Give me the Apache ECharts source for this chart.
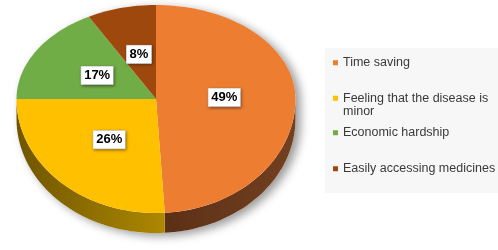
<!DOCTYPE html>
<html><head><meta charset="utf-8">
<script src="https://cdn.jsdelivr.net/npm/echarts@6/dist/echarts.min.js"></script>
<style>html,body{margin:0;padding:0;background:#fff}#c{width:498px;height:250px}</style>
</head><body><div id="c"></div>
<script>
const categories = ['Time saving', 'Feeling that the disease is minor', 'Economic hardship', 'Easily accessing medicines'];
const legendLabels = ['Time saving', 'Feeling that the disease is\nminor', 'Economic hardship', 'Easily accessing medicines'];
const values = [49, 26, 17, 8];
const labels = ['49%', '26%', '17%', '8%'];

const colors = ['#ED7D31', '#FFC000', '#70AD47', '#9E480E'];
const sideColors = [['#734020', '#5c3016'], ['#ad8800', '#6f5500'], ['#3f6a26', '#2f4f1c'], ['#5a2a08', '#3f1d05']];

const CX = 156, CY = 99, RX = 139.5, RY_TOP = 94, RY_BOT = 114, DEPTH = 20, LABEL_F = 0.49;
const total = values.reduce((a, b) => a + b, 0);

function pt(a, dy, f) {
  f = f || 1;
  const r = a * Math.PI / 180, s = Math.sin(r);
  return [CX + f * RX * Math.cos(r), CY + f * (s < 0 ? RY_TOP : RY_BOT) * s + (dy || 0)];
}
function arc(a1, a2, dy) {
  const pts = [];
  const n = Math.max(2, Math.ceil(Math.abs(a2 - a1) / 2));
  for (let i = 0; i <= n; i++) pts.push(pt(a1 + (a2 - a1) * i / n, dy));
  return pts;
}
function angles(i) {
  let s = 0;
  for (let k = 0; k < i; k++) s += values[k];
  const a1 = -90 + 360 * s / total;
  return [a1, a1 + 360 * values[i] / total];
}

const chart = echarts.init(document.getElementById('c'), null, {renderer: 'canvas'});

const series = [];
// sides (with silhouette shadow)
series.push({
  type: 'custom', coordinateSystem: 'none', z: 1, silent: true,
  data: values.map((v, i) => [v, i]),
  renderItem: function (params, api) {
    const i = params.dataIndex;
    const [a1, a2] = angles(i);
    const children = [];
    if (i === 0) {
      children.push({
        type: 'polygon',
        shape: {points: arc(180, 360, 0).concat(arc(0, 180, DEPTH))},
        style: {fill: '#fff', shadowColor: 'rgba(0,0,0,0.4)', shadowBlur: 10, shadowOffsetX: 5, shadowOffsetY: 3}
      });
    }
    const lo = Math.max(a1, 0), hi = Math.min(a2, 180);
    if (hi > lo) {
      const x1 = pt(lo)[0], x2 = pt(hi)[0];
      children.push({
        type: 'polygon',
        shape: {points: arc(lo, hi, 0).concat(arc(hi, lo, DEPTH))},
        style: {
          fill: new echarts.graphic.LinearGradient(0, 0, 1, 0, [
            {offset: 0, color: sideColors[i][x1 > x2 ? 1 : 0]},
            {offset: 1, color: sideColors[i][x1 > x2 ? 0 : 1]}
          ]),
          stroke: null
        }
      });
    }
    return {type: 'group', children: children};
  }
});
// tops
categories.forEach((c, i) => {
  series.push({
    type: 'custom', coordinateSystem: 'none', z: 3, name: c,
    itemStyle: {color: colors[i]},
    data: [[values[i]]],
    renderItem: function (params, api) {
      const [a1, a2] = angles(i);
      return {
        type: 'polygon',
        shape: {points: [[CX, CY]].concat(arc(a1, a2, 0))},
        style: {fill: api.visual('color')}
      };
    }
  });
});
// labels
series.push({
  type: 'custom', coordinateSystem: 'none', z: 5, silent: true,
  data: values.map((v, i) => [v, i]),
  renderItem: function (params, api) {
    const i = params.dataIndex;
    const [a1, a2] = angles(i);
    const p = pt((a1 + a2) / 2, 0, LABEL_F);
    return {
      type: 'text', x: p[0], y: p[1],
      style: {
        text: labels[i], fill: '#000', font: 'bold 13px "Liberation Sans", Arial, sans-serif',
        align: 'center', verticalAlign: 'middle',
        backgroundColor: '#fff', padding: [3, 3, 2, 3], borderColor: '#c8c8c8', borderWidth: 0.5,
        shadowColor: 'rgba(0,0,0,0.45)', shadowBlur: 3, shadowOffsetX: 1, shadowOffsetY: 1
      }
    };
  }
});

const legendTops = [56, 91.5, 126, 162];
const legends = categories.map((c, i) => ({
  data: [c], orient: 'vertical', left: 333, top: legendTops[i], padding: 0,
  itemWidth: 5, itemHeight: i === 1 ? 18.5 : 5,
  icon: i === 1 ? 'path://M0,0L5,0L5,5L0,5Z M0,18.49L0.01,18.49L0.01,18.5L0,18.5Z' : 'rect',
  selectedMode: false,
  formatter: name => legendLabels[categories.indexOf(name)],
  textStyle: {fontFamily: '"Liberation Sans", Arial, sans-serif', fontSize: 12.5, color: '#3a3a3a', lineHeight: 13.5}
}));

chart.setOption({
  animation: false,
  backgroundColor: '#fff',
  graphic: [{type: 'rect', left: 325, top: 48, shape: {width: 173, height: 145}, style: {fill: '#f7f7f7'}, z: -10, silent: true}],
  legend: legends,
  series: series
});
</script>
</body></html>
